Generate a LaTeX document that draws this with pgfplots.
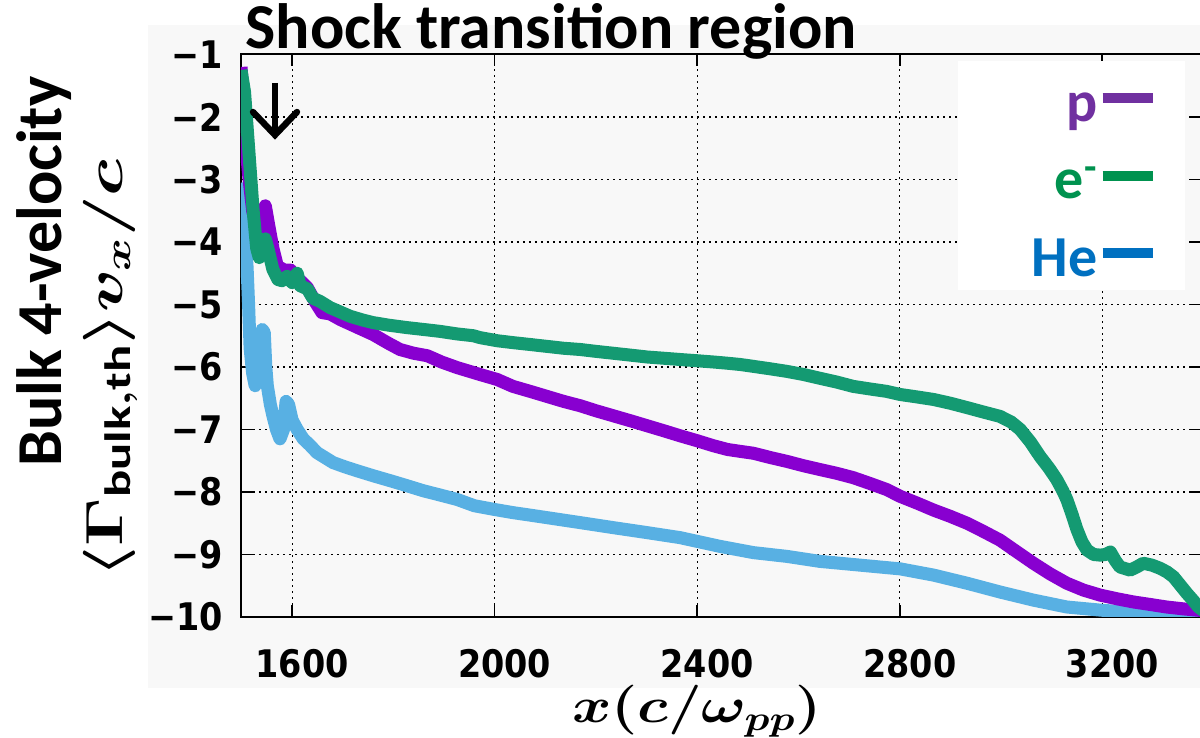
\documentclass[border=0pt]{standalone}
\usepackage{fontspec}
\setmainfont{Carlito}
\newfontfamily\tickfont[FakeStretch=0.88]{DejaVu Sans}
\usepackage{graphicx}
\usepackage{pgfplots}
\pgfplotsset{compat=1.18}
\definecolor{bgc}{HTML}{F8F8F8}
\definecolor{cP}{HTML}{8800D0}
\definecolor{cE}{HTML}{149A72}
\definecolor{cH}{HTML}{58B0E3}
\definecolor{lP}{HTML}{7030A0}
\definecolor{lE}{HTML}{00924F}
\definecolor{lH}{HTML}{0070C0}

\pgfplotstableread{
x y
1499 -1.25
1506 -1.6
1515 -2.6
1523 -3.5
1530 -4.1
1535 -4.25
1542 -4.05
1547 -3.95
1552 -4.1
1562 -4.44
1572 -4.6
1580 -4.62
1590 -4.55
1600 -4.65
1610 -4.5
1616 -4.7
1630 -4.75
1641 -4.9
1655 -4.95
1675 -5.05
1695 -5.12
1715 -5.19
1740 -5.25
1760 -5.29
1790 -5.33
1827 -5.37
1860 -5.4
1892 -5.43
1925 -5.47
1958 -5.5
1971 -5.53
2005 -5.58
2036 -5.61
2070 -5.64
2103 -5.67
2136 -5.70
2169 -5.72
2200 -5.75
2234 -5.78
2268 -5.81
2301 -5.84
2334 -5.86
2366 -5.88
2400 -5.9
2432 -5.92
2460 -5.94
2485 -5.96
2511 -5.99
2545 -6.03
2577 -6.07
2610 -6.12
2642 -6.18
2675 -6.24
2708 -6.31
2740 -6.35
2774 -6.39
2801 -6.44
2835 -6.48
2867 -6.52
2900 -6.58
2933 -6.65
2965 -6.72
2998 -6.79
3020 -6.88
3038 -7.0
3058 -7.2
3077 -7.43
3095 -7.62
3110 -7.8
3122 -7.98
3130 -8.12
3140 -8.35
3150 -8.6
3160 -8.8
3170 -8.93
3183 -9.0
3196 -9.01
3206 -9.0
3216 -8.96
3226 -9.1
3235 -9.2
3255 -9.25
3268 -9.2
3281 -9.14
3298 -9.17
3314 -9.22
3328 -9.28
3341 -9.36
3355 -9.5
3367 -9.62
3380 -9.74
3390 -9.84
3400 -9.9
}\tblE

\pgfplotstableread{
x y
1499 -1.2
1503 -1.6
1508 -2.4
1515 -3.0
1522 -3.5
1530 -3.75
1535 -3.8
1542 -3.55
1547 -3.42
1553 -3.7
1562 -4.1
1571 -4.39
1585 -4.45
1597 -4.45
1607 -4.55
1620 -4.65
1630 -4.73
1645 -4.95
1659 -5.13
1675 -5.15
1695 -5.24
1730 -5.37
1760 -5.48
1790 -5.62
1813 -5.72
1840 -5.78
1867 -5.82
1895 -5.92
1926 -6.01
1971 -6.12
2005 -6.2
2036 -6.31
2070 -6.39
2103 -6.47
2136 -6.55
2169 -6.62
2200 -6.70
2234 -6.78
2268 -6.86
2301 -6.94
2334 -7.02
2366 -7.1
2400 -7.18
2432 -7.26
2460 -7.32
2485 -7.35
2511 -7.38
2545 -7.45
2577 -7.51
2610 -7.58
2642 -7.64
2675 -7.7
2708 -7.77
2740 -7.86
2774 -7.96
2801 -8.07
2835 -8.18
2867 -8.29
2900 -8.39
2933 -8.5
2965 -8.63
2998 -8.77
3030 -8.95
3064 -9.14
3097 -9.31
3130 -9.46
3163 -9.57
3196 -9.65
3230 -9.71
3262 -9.76
3295 -9.8
3327 -9.84
3360 -9.87
3400 -9.9
}\tblP

\pgfplotstableread{
x y
1499 -3.05
1503 -3.3
1507 -3.9
1511 -4.4
1514 -5.0
1517 -5.7
1522 -6.1
1527 -6.3
1532 -6.2
1537 -5.9
1541 -5.4
1545 -5.45
1548 -6.0
1551 -6.3
1557 -6.6
1562 -6.78
1569 -7.0
1576 -7.15
1583 -7.0
1588 -6.55
1593 -6.6
1600 -6.85
1610 -7.0
1622 -7.15
1635 -7.25
1649 -7.37
1665 -7.45
1681 -7.53
1705 -7.6
1728 -7.66
1760 -7.74
1794 -7.82
1827 -7.9
1859 -7.98
1893 -8.05
1926 -8.12
1960 -8.22
2000 -8.28
2036 -8.33
2070 -8.37
2103 -8.41
2169 -8.49
2234 -8.57
2301 -8.65
2366 -8.73
2445 -8.87
2511 -8.97
2577 -9.03
2642 -9.11
2708 -9.16
2774 -9.21
2801 -9.23
2867 -9.33
2933 -9.46
2998 -9.6
3064 -9.73
3130 -9.84
3196 -9.89
3262 -9.93
3330 -9.95
3400 -9.96
}\tblH

\begin{document}
\begin{tikzpicture}
\useasboundingbox (-120.5pt,-60.5pt) rectangle (479.5pt,308.5pt);
\fill[bgc] (-46.5pt,-35.5pt) rectangle (486pt,296pt);
\begin{axis}[
  at={(0pt,0pt)}, anchor=south west,
  scale only axis, width=480.5pt, height=281.25pt,
  xmin=1499, xmax=3397, ymin=-10, ymax=-1,
  xtick={1600,2000,2400,2800,3200},
  xticklabels={1600,2000,2400,2800,3200},
  ytick={-10,-9,-8,-7,-6,-5,-4,-3,-2,-1},
  yticklabels={−10,−9,−8,−7,−6,−5,−4,−3,−2,−1},
  tick align=inside, tick pos=both,
  major tick length=6pt,
  every tick/.style={black, line width=0.8pt},
  grid=major,
  major grid style={black, line width=0.55pt, dash pattern=on 1.2pt off 1.8pt},
  axis line style={line width=1pt},
  ticklabel style={font=\tickfont\bfseries\fontsize{19}{22}\selectfont},
  yticklabel style={inner sep=0pt, anchor=east, xshift=-9pt},
  xticklabel style={inner sep=0pt, anchor=north, yshift=-16pt, xshift=5pt},
  legend image code/.code={\draw[#1] (0pt,0pt) -- (25pt,0pt);},
  legend cell align=right, legend plot pos=right,
  legend style={at={(axis description cs:0.9823,0.9884)}, anchor=north east,
    fill=white, draw=none, inner xsep=13.5pt, inner ysep=3pt,
    row sep=7.75pt,
    font=\bfseries\fontsize{29}{31}\selectfont,
    nodes={inner sep=0pt, text height=27pt, text depth=4pt},
    /tikz/every even column/.append style={column sep=4pt}},
]
\addlegendimage{lP, line width=5pt}
\addlegendentry{\makebox[56.5pt][r]{\color{lP}p}}
\addlegendimage{lE, line width=5pt}
\addlegendentry{\makebox[56.5pt][r]{\color{lE}e\textsuperscript{-}}}
\addlegendimage{lH, line width=5pt}
\addlegendentry{\makebox[56.5pt][r]{\color{lH}He}}
\addplot[cH, line width=6.5pt, line join=round, forget plot] table[x=x,y=y] {\tblH};
\addplot[cP, line width=6.5pt, line join=round, forget plot] table[x=x,y=y] {\tblP};
\addplot[cE, line width=6.5pt, line join=round, forget plot] table[x=x,y=y] {\tblE};
\end{axis}
\node[anchor=base west, font=\bfseries\fontsize{32}{34}\selectfont, inner sep=0pt] at (2pt,284pt) {Shock transition region};
\draw[line width=3.2pt] (17pt,267pt) -- (17pt,242pt);
\draw[line width=3.2pt, line cap=round] (6pt,252.5pt) -- (17pt,241pt) -- (28pt,252.5pt);
\node[rotate=90, anchor=base, font=\bfseries\fontsize{32}{34}\selectfont, inner sep=0pt] at (-89.5pt,172.75pt) {Bulk 4-velocity};
\node[rotate=90, anchor=base, font=\fontsize{25}{30}\selectfont\boldmath, inner sep=0pt] at (-59pt,124pt) {\scalebox{1.45}[1.05]{$\langle\Gamma_{\mathrm{bulk,th}}\rangle v_x/c$}};
\node[anchor=base, font=\fontsize{25}{30}\selectfont\boldmath, inner sep=0pt] at (228pt,-53pt) {\scalebox{1.2}[1]{$x(c/\omega_{pp})$}};
\end{tikzpicture}
\end{document}
